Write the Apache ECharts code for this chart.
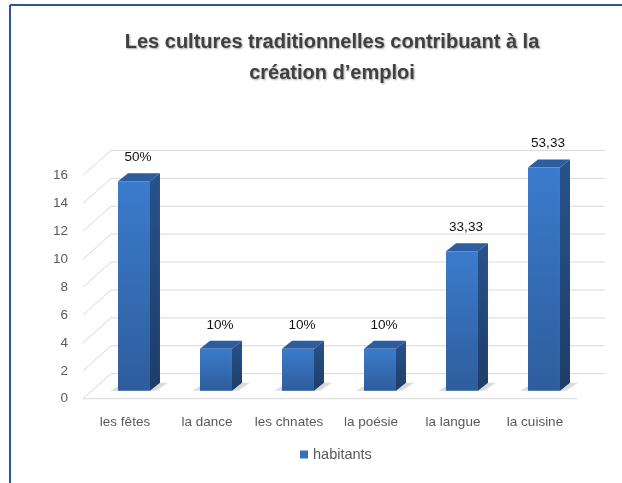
<!DOCTYPE html>
<html>
<head>
<meta charset="utf-8">
<script src="https://cdn.jsdelivr.net/npm/echarts@6/dist/echarts.min.js"></script>
<style>
html,body{margin:0;padding:0;background:#fff;}
#chart{width:622px;height:483px;}
</style>
</head>
<body>
<div id="chart"></div>
<script>
var categories = ['les fêtes', 'la dance', 'les chnates', 'la poésie', 'la langue', 'la cuisine'];
var habitants = [15, 3, 3, 3, 10, 16];
var barLabels = ['50%', '10%', '10%', '10%', '33,33', '53,33'];
var yTicks = [0, 2, 4, 6, 8, 10, 12, 14, 16];
var yTickLabels = ['0', '2', '4', '6', '8', '10', '12', '14', '16'];
var seriesName = 'habitants';
var titleText = 'Les cultures traditionnelles contribuant à la\ncréation d’emploi';

var FONT = "'Liberation Sans', Arial, sans-serif";
var FRONT = [-10, 8];   // front plane offset from bar plane
var BACK = [18, -17];   // back wall offset from bar plane
var DEPTH = [10, -8];   // bar depth

var chart = echarts.init(document.getElementById('chart'));

function renderBar(params, api) {
  var idx = api.value(0);
  var val = api.value(1);
  var p0 = api.coord([idx, 0]);
  var p1 = api.coord([idx, val]);
  var w = api.size([1, 0])[0] * 0.39;
  var xl = p0[0] - w / 2, xr = p0[0] + w / 2;
  var yb = p0[1], yt = p1[1];
  var dx = DEPTH[0], dy = DEPTH[1];
  return {
    type: 'group',
    children: [
      {
        type: 'polygon',
        shape: {points: [[xl - 8, yb], [xr + 6, yb], [xr + dx + 8, yb + dy], [xl + dx - 4, yb + dy]]},
        style: {fill: 'rgba(0,0,0,0.12)', shadowBlur: 5, shadowColor: 'rgba(0,0,0,0.35)'},
        z2: 1
      },
      {
        type: 'polygon',
        shape: {points: [[xr, yt], [xr + dx, yt + dy], [xr + dx, yb + dy], [xr, yb]]},
        style: {fill: new echarts.graphic.LinearGradient(0, 0, 0, 1, [{offset: 0, color: '#28528c'}, {offset: 1, color: '#1e3d68'}])},
        z2: 2
      },
      {
        type: 'polygon',
        shape: {points: [[xl, yt], [xl + dx, yt + dy], [xr + dx, yt + dy], [xr, yt]]},
        style: {fill: '#2c5d9e'},
        z2: 2
      },
      {
        type: 'rect',
        shape: {x: xl, y: yt, width: w, height: yb - yt},
        style: {fill: new echarts.graphic.LinearGradient(0, 0, 0, 1, [{offset: 0, color: '#3b7bcc'}, {offset: 1, color: '#2e5d9d'}])},
        z2: 3
      },
      {
        type: 'text',
        style: {
          text: barLabels[idx], x: p0[0] + 4, y: yt - 24,
          align: 'center', verticalAlign: 'middle',
          font: "13.5px " + FONT, fill: '#111'
        },
        z2: 4
      }
    ]
  };
}

function renderGrid(params, api) {
  var i = params.dataIndex;
  var v = api.value(0);
  var cs = params.coordSys;
  var y = api.coord([0, v])[1];
  var lineStyle = {stroke: '#d9d9d9', lineWidth: 1};
  var children = [
    {type: 'line', shape: {x1: cs.x + BACK[0], y1: y + BACK[1], x2: cs.x + cs.width + 20, y2: y + BACK[1]}, style: lineStyle},
    {type: 'line', shape: {x1: cs.x + FRONT[0], y1: y + FRONT[1], x2: cs.x + BACK[0], y2: y + BACK[1]}, style: lineStyle},
    {type: 'text', style: {
      text: yTickLabels[i], x: cs.x - 25, y: y + FRONT[1],
      align: 'right', verticalAlign: 'middle',
      font: "13.5px " + FONT, fill: '#595959'
    }}
  ];
  if (v === 0) {
    children.push({type: 'line', shape: {x1: cs.x + FRONT[0], y1: y + FRONT[1], x2: cs.x + cs.width - 8, y2: y + FRONT[1]}, style: lineStyle});
  }
  return {type: 'group', children: children};
}

var option = {
  backgroundColor: '#fff',
  animation: false,
  legend: {
    data: [seriesName],
    bottom: 16,
    left: 295,
    padding: 5,
    itemWidth: 8, itemHeight: 8,
    icon: 'rect',
    textStyle: {fontFamily: FONT, fontSize: 14.5, color: '#595959'}
  },
  grid: {left: 93, right: 37, top: 167.4, bottom: 92.3},
  xAxis: {
    type: 'category',
    data: categories,
    axisLine: {show: false},
    axisTick: {show: false},
    axisLabel: {
      margin: 25, fontFamily: FONT, fontSize: 13.5, color: '#595959',
      padding: [0, 18, 0, 0], interval: 0
    },
    splitLine: {show: false}
  },
  yAxis: {
    type: 'value',
    min: 0, max: 16, interval: 2,
    axisLine: {show: false},
    axisTick: {show: false},
    splitLine: {show: false},
    axisLabel: {show: false}
  },
  series: [
    {
      type: 'custom',
      name: 'grid',
      renderItem: renderGrid,
      data: yTicks.map(function (t) { return [t]; }),
      encode: {y: 0},
      silent: true,
      z: 1
    },
    {
      type: 'custom',
      name: seriesName,
      renderItem: renderBar,
      data: habitants.map(function (v, i) { return [i, v]; }),
      encode: {x: 0, y: 1},
      itemStyle: {color: '#3470bf'},
      z: 2
    }
  ],
  graphic: [
    {type: 'line', shape: {x1: 10, y1: 5, x2: 622, y2: 5}, style: {stroke: '#2e5597', lineWidth: 2}},
    {type: 'line', shape: {x1: 10, y1: 5, x2: 10, y2: 483}, style: {stroke: '#2e5597', lineWidth: 2}},
    {
      type: 'text', x: 332, y: 57.5,
      style: {
        text: titleText, align: 'center', verticalAlign: 'middle',
        font: "bold 20px " + FONT, lineHeight: 31, fill: '#404040',
        textShadowColor: 'rgba(0,0,0,0.35)', textShadowBlur: 2, textShadowOffsetX: 1, textShadowOffsetY: 1
      }
    }
  ]
};
chart.setOption(option);
</script>
</body>
</html>
